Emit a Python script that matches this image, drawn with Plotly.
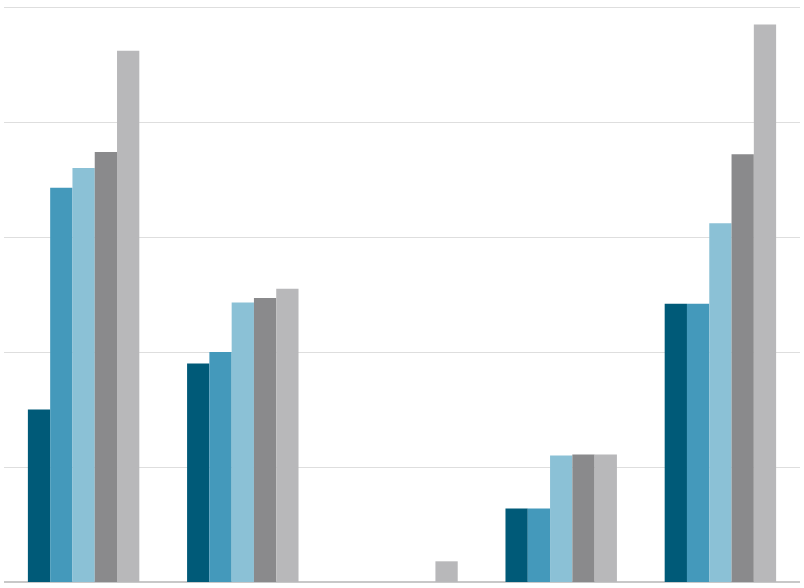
import plotly.graph_objects as go

categories = ["A", "B", "C", "D", "E"]
series_names = ["S1", "S2", "S3", "S4", "S5"]
s1 = [1.50, 1.90, 0.00, 0.64, 2.42]
s2 = [3.43, 2.00, 0.00, 0.64, 2.42]
s3 = [3.60, 2.43, 0.00, 1.10, 3.12]
s4 = [3.74, 2.47, 0.00, 1.11, 3.72]
s5 = [4.62, 2.55, 0.18, 1.11, 4.85]
colors = ["#005a78", "#4499bb", "#8bc1d6", "#8a8a8c", "#b8b8ba"]

fig = go.Figure()
for name, vals, c in zip(series_names, [s1, s2, s3, s4, s5], colors):
    fig.add_trace(go.Bar(x=categories, y=vals, name=name, marker=dict(color=c, line=dict(width=0))))

fig.update_layout(
    width=804, height=588,
    margin=dict(l=4, r=4, t=6, b=6),
    barmode="group", bargap=0.3, bargroupgap=0,
    plot_bgcolor="white", paper_bgcolor="white",
    showlegend=False,
    xaxis=dict(showticklabels=False, showgrid=False, zeroline=False, showline=False, ticks=""),
    yaxis=dict(range=[0, 5.01], tick0=0, dtick=1, showticklabels=False, showgrid=True,
               gridcolor="#dedede", gridwidth=1, zeroline=True, zerolinecolor="#c8c8c8",
               zerolinewidth=1.5, showline=False, ticks=""),
)
fig.write_html("out.html", config={"displayModeBar": False},
               post_script="document.body.style.margin='0';document.body.style.overflow='hidden';")
